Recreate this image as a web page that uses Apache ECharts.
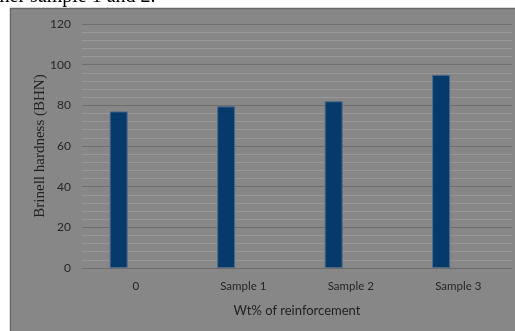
<!DOCTYPE html>
<html>
<head>
<meta charset="utf-8">
<style>
  html, body { margin: 0; padding: 0; background: #ffffff; }
  #chart { width: 515px; height: 331px; }
</style>
<script src="https://cdn.jsdelivr.net/npm/echarts@6/dist/echarts.min.js"></script>
</head>
<body>
<div id="chart"></div>
<script>
// Brinell hardness for each reinforcement level
const categories = ['0', 'Sample 1', 'Sample 2', 'Sample 3'];
const hardness = [77, 79.5, 82, 95];
// unused spreadsheet columns that still reserve bar slots
const emptySeriesA = [];
const emptySeriesB = [];
const yTicks = { min: 0, max: 120, step: 20 };

const chart = echarts.init(document.getElementById('chart'), null, { renderer: 'canvas' });

const labelFont = 'Lato, "Open Sans", sans-serif';
const serifFont = '"Liberation Serif", "Times New Roman", serif';

chart.setOption({
  animation: false,
  backgroundColor: '#ffffff',
  graphic: [
    {
      type: 'text',
      left: -6,
      top: -13,
      z: 0,
      style: {
        text: 'ther sample 1 and 2.',
        font: '20px ' + serifFont,
        fill: '#000000'
      }
    },
    {
      type: 'rect',
      z: -10,
      shape: { x: 10.5, y: 8.5, width: 520, height: 340 },
      style: { fill: '#878787', stroke: '#6a6a6a', lineWidth: 1.5 }
    },
    {
      // value-axis title, rotated to read bottom-to-top
      type: 'text',
      x: 40,
      y: 146,
      rotation: Math.PI / 2,
      z: 5,
      style: {
        text: 'Brinell hardness (BHN)',
        font: '15px ' + serifFont,
        fill: '#222222',
        align: 'center',
        verticalAlign: 'middle'
      }
    }
  ],
  grid: { left: 82, top: 24, right: 3, bottom: 63 },
  xAxis: {
    type: 'category',
    data: categories,
    name: 'Wt% of reinforcement',
    nameLocation: 'middle',
    nameGap: 36,
    nameTextStyle: { fontFamily: labelFont, fontSize: 13, color: '#222222' },
    axisLine: { show: true, lineStyle: { color: '#6c6c6c', width: 1 } },
    axisTick: { show: false },
    axisLabel: { fontFamily: labelFont, fontSize: 11.5, color: '#262626', margin: 12 }
  },
  yAxis: {
    type: 'value',
    min: yTicks.min,
    max: yTicks.max,
    interval: yTicks.step,
    axisLine: { show: false },
    axisTick: { show: false },
    axisLabel: { fontFamily: labelFont, fontSize: 12, color: '#262626', margin: 11 },
    splitLine: { show: true, lineStyle: { color: '#6e6e6e', width: 1 } },
    minorTick: { show: false, splitNumber: 5 },
    minorSplitLine: { show: true, lineStyle: { color: '#979797', width: 1 } }
  },
  series: [
    {
      type: 'bar',
      data: hardness,
      barWidth: 18,
      barGap: '-5%',
      itemStyle: { color: '#053a6b', borderColor: '#4d6b8c', borderWidth: 1 }
    },
    { type: 'bar', data: emptySeriesA, barWidth: 18, barGap: '-5%' },
    { type: 'bar', data: emptySeriesB, barWidth: 18, barGap: '-5%' }
  ]
});
</script>
</body>
</html>
